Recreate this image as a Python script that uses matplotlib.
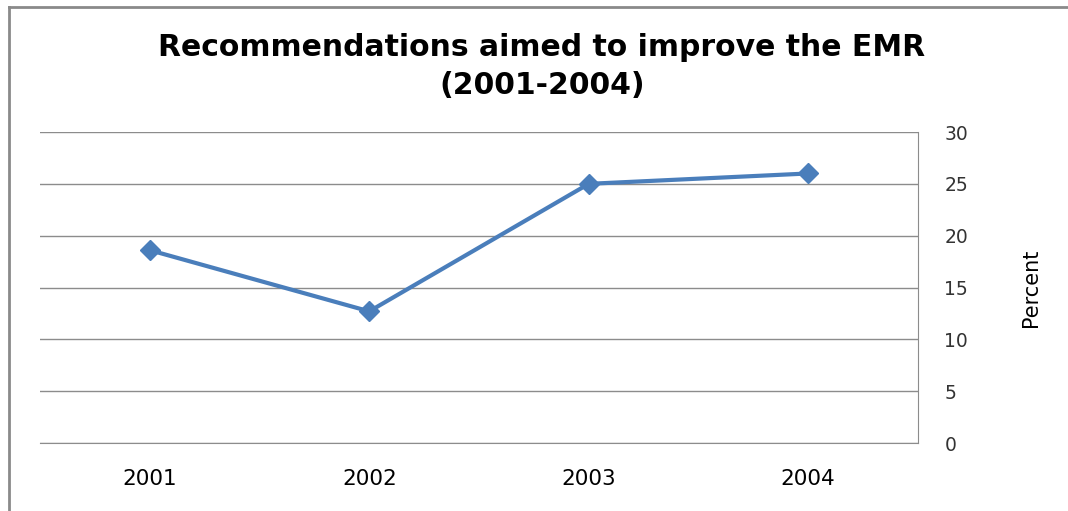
import matplotlib.pyplot as plt
from matplotlib.lines import Line2D

years = ['2001', '2002', '2003', '2004']
percent = [18.6, 12.7, 25.0, 26.0]
yticks = [0, 5, 10, 15, 20, 25, 30]

W, H = 1068, 511
fig = plt.figure(figsize=(W / 100, H / 100), dpi=100)
ax = fig.add_axes([40 / W, 1 - 443 / H, (918 - 40) / W, (443 - 132) / H])

x = range(len(years))
ax.plot(x, percent, color='#4a7ebb', lw=3, marker='D', ms=10.5,
        markeredgecolor='#4a7ebb', solid_joinstyle='round')

ax.set_xlim(-0.5, len(years) - 0.5)
ax.set_ylim(0, 30)
ax.set_xticks(list(x))
ax.set_xticklabels(years, fontsize=15.5, family='DejaVu Sans')
ax.set_yticks(yticks)
ax.set_yticklabels([str(v) for v in yticks], fontsize=13.5, family='DejaVu Sans',
                   color='#333333')
ax.yaxis.tick_right()
ax.tick_params(axis='both', length=0)
ax.tick_params(axis='y', pad=19)
ax.tick_params(axis='x', pad=19)
ax.set_ylabel('Percent', fontsize=15, family='DejaVu Sans')
ax.yaxis.set_label_position('right')
ax.yaxis.set_label_coords((1021 - 40) / (918 - 40), 0.5)

ax.grid(axis='y', color='#8c8c8c', lw=1)
ax.set_axisbelow(True)
for side in ['left', 'top']:
    ax.spines[side].set_visible(False)
ax.spines['right'].set_color('#8c8c8c')
ax.spines['bottom'].set_color('#8c8c8c')

fig.text(542 / W, 1 - 48 / H, 'Recommendations aimed to improve the EMR',
         ha='center', va='center', fontsize=21.5, fontweight='bold', family='DejaVu Sans')
fig.text(542 / W, 1 - 86 / H, '(2001-2004)',
         ha='center', va='center', fontsize=21.5, fontweight='bold', family='DejaVu Sans')

# frame around the chart, only left and top edges fall inside the image
fig.add_artist(Line2D([9 / W, 9 / W], [0, 1 - 7 / H], color='#8a8a8a', lw=2))
fig.add_artist(Line2D([9 / W, 1], [1 - 7 / H, 1 - 7 / H], color='#8a8a8a', lw=2))

fig.savefig('out.png', dpi=100)
